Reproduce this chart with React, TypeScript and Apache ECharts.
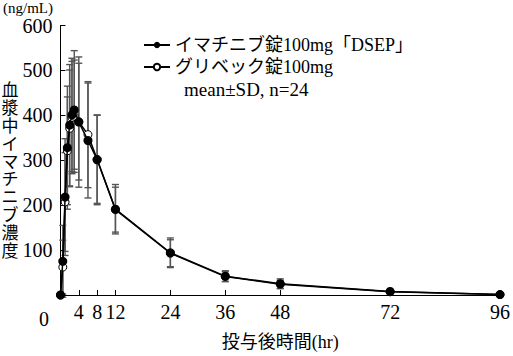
import React, { useEffect, useRef } from "react";
import * as echarts from "echarts";

const times = [0, 0.5, 1, 1.5, 2, 2.5, 3, 4, 6, 8, 12, 24, 36, 48, 72, 96];
const imatinibMean = [0, 75, 218, 328, 378, 401, 412, 385, 344, 301, 191, 94, 42, 25, 8, 1];
const imatinibSD = [0, 80, 130, 137, 135, 126, 132, 145, 128, 100, 55, 33, 12, 11, 4, 1];
const glivecMean = [0, 62, 207, 321, 371, 395, 398, 386, 357, 302, 190, 93, 41, 24, 7, 1];
const glivecSD = [0, 60, 110, 120, 130, 125, 125, 130, 118, 98, 50, 30, 11, 9, 3, 1];
const xTicks = [4, 8, 12, 24, 36, 48, 72, 96];
const seriesNames = ["イマチニブ錠100mg「DSEP」", "グリベック錠100mg"];
const noteText = "mean±SD, n=24";
const yUnit = "(ng/mL)";
const yName = "血漿中イマチニブ濃度";
const xName = "投与後時間(hr)";

const FONT = "'Liberation Serif', 'Noto Sans CJK JP', serif";

function errData(mean: number[], sd: number[]) {
  return times.map((t, i) => [t, mean[i], sd[i]]);
}

function errRender(params: any, api: any) {
  const t = api.value(0);
  const m = api.value(1);
  const s = api.value(2);
  if (!s) return null;
  const hi = api.coord([t, m + s]);
  const lo = api.coord([t, m - s]);
  const w = 3.5;
  const st = { stroke: "#555", lineWidth: 1.4 };
  return {
    type: "group",
    children: [
      { type: "line", shape: { x1: hi[0], y1: hi[1], x2: lo[0], y2: lo[1] }, style: st },
      { type: "line", shape: { x1: hi[0] - w, y1: hi[1], x2: hi[0] + w, y2: hi[1] }, style: st },
      { type: "line", shape: { x1: lo[0] - w, y1: lo[1], x2: lo[0] + w, y2: lo[1] }, style: st },
    ],
  };
}

export default function App() {
  const ref = useRef<HTMLDivElement>(null);
  useEffect(() => {
    if (!ref.current) return;
    const chart = echarts.init(ref.current, null, { renderer: "svg" });
    chart.setOption({
      animation: false,
      textStyle: { fontFamily: FONT },
      grid: { left: 60.5, right: 8, top: 25.5, bottom: 54.5, containLabel: false },
      legend: {
        orient: "vertical",
        left: 143,
        top: 35,
        itemWidth: 26,
        itemHeight: 8,
        itemGap: 2,
        padding: 0,
        data: seriesNames,
        textStyle: { fontFamily: FONT, fontSize: 18, lineHeight: 20, color: "#000" },
      },
      xAxis: {
        type: "value",
        min: 0,
        max: 96,
        splitLine: { show: false },
        axisLine: { lineStyle: { color: "#000", width: 1 } },
        axisTick: { inside: true, length: 5, customValues: xTicks, lineStyle: { color: "#000" } },
        axisLabel: { customValues: xTicks, fontSize: 20, color: "#000", fontFamily: FONT, margin: 7 },
        name: xName,
        nameLocation: "middle",
        nameGap: 38,
        nameTextStyle: { fontSize: 18, color: "#000", fontFamily: FONT },
      },
      yAxis: {
        type: "value",
        min: 0,
        max: 600,
        interval: 100,
        splitLine: { show: false },
        axisLine: { show: true, lineStyle: { color: "#000", width: 1 } },
        axisTick: { show: true, inside: true, length: 5, lineStyle: { color: "#000" } },
        axisLabel: {
          fontSize: 20,
          color: "#000",
          fontFamily: FONT,
          margin: 8,
          formatter: (v: number) => (v === 0 ? "" : String(v)),
        },
      },
      graphic: [
        {
          type: "text",
          x: 3,
          y: 7.5,
          style: { text: yUnit, fontSize: 15, fontFamily: FONT, fill: "#000", verticalAlign: "middle" },
        },
        {
          type: "text",
          x: 44,
          y: 319,
          style: { text: "0", fontSize: 20, fontFamily: FONT, fill: "#000", align: "center", verticalAlign: "middle" },
        },
        {
          type: "text",
          x: 10,
          y: 171,
          style: {
            text: yName.split("").join("\n"),
            fontSize: 17,
            lineHeight: 17.8,
            fontFamily: FONT,
            fill: "#000",
            align: "center",
            verticalAlign: "middle",
          },
        },
        {
          type: "text",
          x: 184,
          y: 89,
          style: { text: noteText, fontSize: 19, fontFamily: FONT, fill: "#000", verticalAlign: "middle" },
        },
      ],
      series: [
        {
          type: "custom",
          name: "err1",
          renderItem: errRender,
          data: errData(imatinibMean, imatinibSD),
          z: 1,
          silent: true,
          encode: { x: 0, y: 1 },
        },
        {
          type: "custom",
          name: "err2",
          renderItem: errRender,
          data: errData(glivecMean, glivecSD),
          z: 1,
          silent: true,
          encode: { x: 0, y: 1 },
        },
        {
          type: "line",
          name: seriesNames[1],
          data: times.map((t, i) => [t, glivecMean[i]]),
          symbol: "circle",
          symbolSize: 8,
          clip: false,
          z: 3,
          lineStyle: { color: "#000", width: 1.5 },
          itemStyle: { color: "#fff", borderColor: "#000", borderWidth: 1 },
        },
        {
          type: "line",
          name: seriesNames[0],
          data: times.map((t, i) => [t, imatinibMean[i]]),
          symbol: "circle",
          symbolSize: 9,
          clip: false,
          z: 4,
          lineStyle: { color: "#000", width: 1.5 },
          itemStyle: { color: "#000", borderColor: "#000", borderWidth: 0 },
        },
      ],
    });
    return () => chart.dispose();
  }, []);
  return (
    <div
      ref={ref}
      style={{ position: "fixed", left: 0, top: 0, width: 513, height: 356, background: "#fff" }}
    />
  );
}
